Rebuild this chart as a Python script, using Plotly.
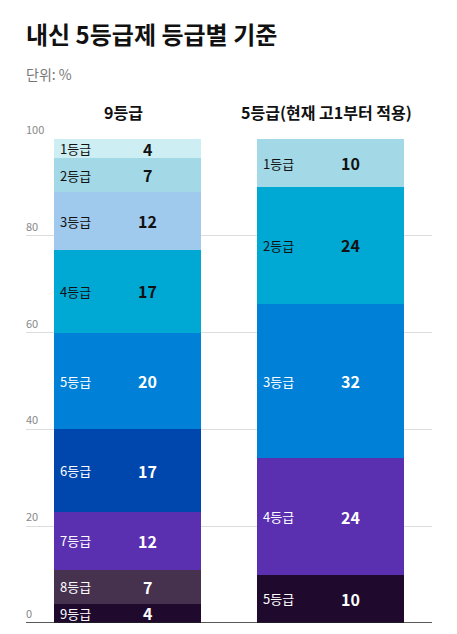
import plotly.graph_objects as go

# --- data ---
columns = ["9등급", "5등급(현재 고1부터 적용)"]
grades_9 = ["1등급", "2등급", "3등급", "4등급", "5등급", "6등급", "7등급", "8등급", "9등급"]
values_9 = [4, 7, 12, 17, 20, 17, 12, 7, 4]
grades_5 = ["1등급", "2등급", "3등급", "4등급", "5등급"]
values_5 = [10, 24, 32, 24, 10]
y_ticks = [0, 20, 40, 60, 80, 100]

# --- styles ---
colors_9 = ["#cdeef3", "#a3d9e6", "#9fcaee", "#00a8d4", "#0080d6",
            "#0047ad", "#5b30b0", "#46314f", "#1f0a2e"]
colors_5 = ["#a3d9e6", "#00a8d4", "#0080d6", "#5b30b0", "#1f0a2e"]
dark_text_9 = 4   # first n segments get dark text
dark_text_5 = 2

FONT = "Noto Sans CJK KR"
PLOT_TOP, PLOT_BOTTOM = 139, 623
H = PLOT_BOTTOM - PLOT_TOP


def py(px):
    # pixel y (from top of page) -> paper y
    return (PLOT_BOTTOM - px) / H


fig = go.Figure()
annotations = []

for col, grades, values, colors, n_dark in [
    (columns[0], grades_9, values_9, colors_9, dark_text_9),
    (columns[1], grades_5, values_5, colors_5, dark_text_5),
]:
    # stack from the bottom (lowest grade first)
    base = 0
    for i in list(range(len(grades)))[::-1]:
        v = values[i]
        fig.add_trace(go.Bar(
            x=[col], y=[v],
            marker=dict(color=colors[i], line=dict(width=0)),
            width=0.72,
            showlegend=False,
            hoverinfo="skip",
        ))
        mid = base + v / 2
        tcolor = "#111111" if i < n_dark else "#ffffff"
        annotations.append(dict(
            x=col, y=mid, xref="x", yref="y",
            text=grades[i], showarrow=False,
            xanchor="left", yanchor="middle", xshift=-70,
            font=dict(family=FONT, size=13, color=tcolor),
        ))
        annotations.append(dict(
            x=col, y=mid, xref="x", yref="y",
            text="<b>%d</b>" % v, showarrow=False,
            xanchor="center", yanchor="middle", xshift=20,
            font=dict(family=FONT, size=16, color=tcolor),
        ))
        base += v

# column headers
for col in columns:
    annotations.append(dict(
        x=col, y=py(112), xref="x", yref="paper",
        text="<b>%s</b>" % col, showarrow=False,
        xanchor="center", yanchor="middle", xshift=-4,
        font=dict(family=FONT, size=16, color="#111111"),
    ))

# y tick labels sitting above the gridlines
for t in y_ticks:
    annotations.append(dict(
        x=0, y=t, xref="paper", yref="y",
        text=str(t), showarrow=False,
        xanchor="left", yanchor="bottom", xshift=-2,
        font=dict(family=FONT, size=11, color="#888888"),
    ))

# title and unit
annotations.append(dict(
    x=0, y=py(34), xref="paper", yref="paper",
    text="<b>내신 5등급제 등급별 기준</b>", showarrow=False,
    xanchor="left", yanchor="middle", xshift=-2,
    font=dict(family=FONT, size=24, color="#111111"),
))
annotations.append(dict(
    x=0, y=py(74), xref="paper", yref="paper",
    text="단위: %", showarrow=False,
    xanchor="left", yanchor="middle", xshift=-2,
    font=dict(family=FONT, size=14, color="#777777"),
))

fig.update_layout(
    width=457, height=634,
    margin=dict(l=26, r=25, t=PLOT_TOP, b=634 - PLOT_BOTTOM),
    barmode="stack",
    bargap=0,
    plot_bgcolor="white",
    paper_bgcolor="white",
    annotations=annotations,
    xaxis=dict(
        type="category", categoryorder="array", categoryarray=columns,
        range=[-0.5, 1.5], showticklabels=False, showgrid=False,
        zeroline=False, showline=False, ticks="",
    ),
    yaxis=dict(
        range=[0, 100], tickvals=y_ticks, showticklabels=False,
        showgrid=True, gridcolor="#dddddd", gridwidth=1,
        zeroline=False, showline=False, ticks="",
    ),
    shapes=[dict(
        type="line", xref="paper", yref="y", x0=0, x1=1, y0=0, y1=0,
        line=dict(color="#222222", width=1.5), layer="above",
    )],
)

# page body has a default margin; remove it so the figure sits at (0, 0)
fig.write_html(
    "out.html",
    config={"displayModeBar": False},
    post_script="document.body.style.margin='0';",
)
